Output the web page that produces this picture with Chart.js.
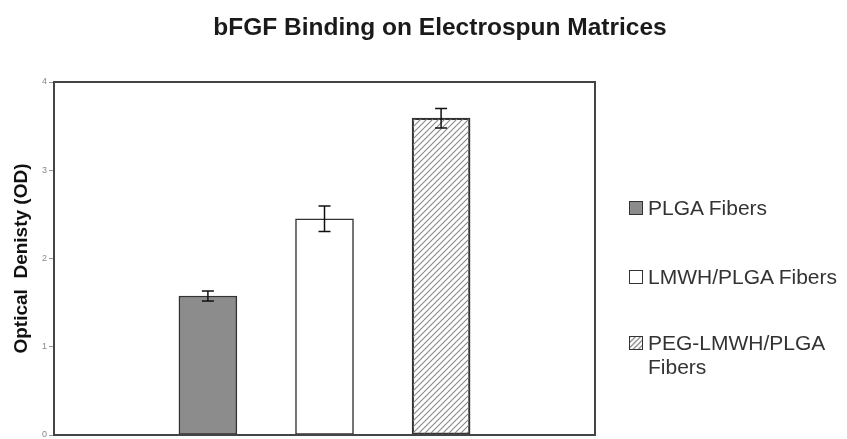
<!DOCTYPE html>
<html>
<head>
<meta charset="utf-8">
<script src="https://cdn.jsdelivr.net/npm/chart.js@4.4.1/dist/chart.umd.min.js"></script>
<style>
    html, body { margin: 0; padding: 0; background: #fff; }
    #wrap { position: relative; width: 847px; height: 439px; font-family: "Liberation Sans", Arial, sans-serif; }
    #chart { position: absolute; left: 0; top: 0; }
    #title { position: absolute; left: 140px; top: 13px; width: 600px; text-align: center; font-weight: bold; font-size: 24.5px; color: #1a1a1a; white-space: nowrap; }
    .leg { position: absolute; left: 629px; font-size: 21px; color: #333; line-height: 24px; }
    .leg .box { position: absolute; left: 0; top: 5px; width: 14px; height: 14px; border: 1.5px solid #333; box-sizing: border-box; }
    .leg .txt { margin-left: 19px; }
</style>
</head>
<body>
<div id="wrap">
    <canvas id="chart" width="847" height="439"></canvas>
    <div id="title">bFGF Binding on Electrospun Matrices</div>
    <div class="leg" style="top:196px"><span class="box" style="background:#8c8c8c"></span><div class="txt">PLGA Fibers</div></div>
    <div class="leg" style="top:265px"><span class="box" style="background:#fff"></span><div class="txt">LMWH/PLGA Fibers</div></div>
    <div class="leg" style="top:331px"><canvas class="box" id="hatchBox" width="14" height="14"></canvas><div class="txt">PEG-LMWH/PLGA<br>Fibers</div></div>
</div>
<script>
// data
const groups = ['PLGA Fibers', 'LMWH/PLGA Fibers', 'PEG-LMWH/PLGA Fibers'];
const positions = [1, 2, 3];
const means = [1.575, 2.45, 3.59];
const errors = [0.057, 0.145, 0.11];
const yTicks = [0, 1, 2, 3, 4];

function createDiagonalPattern(color) {
    const shape = document.createElement('canvas');
    shape.width = 6;
    shape.height = 6;
    const c = shape.getContext('2d');
    c.strokeStyle = color;
    c.lineWidth = 1.1;
    c.beginPath();
    c.moveTo(0, 6);
    c.lineTo(6, 0);
    c.stroke();
    c.beginPath();
    c.moveTo(-1, 1);
    c.lineTo(1, -1);
    c.stroke();
    c.beginPath();
    c.moveTo(5, 7);
    c.lineTo(7, 5);
    c.stroke();
    return c.createPattern(shape, 'repeat');
}

const ctx = document.getElementById('chart').getContext('2d');
const hatch = createDiagonalPattern('#888');

// legend swatch with the same hatch
const hb = document.getElementById('hatchBox').getContext('2d');
hb.fillStyle = createDiagonalPattern('#555');
hb.fillRect(0, 0, 14, 14);

// frame around the plot area + error bars
const framePlugin = {
    id: 'frame',
    afterDatasetsDraw(chart) {
        const { ctx, chartArea: a, scales } = chart;
        ctx.save();
        ctx.strokeStyle = '#111';
        ctx.lineWidth = 1.5;
        means.forEach((m, i) => {
            const x = scales.x.getPixelForValue(positions[i]);
            const yTop = scales.y.getPixelForValue(m + errors[i]);
            const yBot = scales.y.getPixelForValue(m - errors[i]);
            ctx.beginPath();
            ctx.moveTo(x, yTop);
            ctx.lineTo(x, yBot);
            ctx.moveTo(x - 6, yTop);
            ctx.lineTo(x + 6, yTop);
            ctx.moveTo(x - 6, yBot);
            ctx.lineTo(x + 6, yBot);
            ctx.stroke();
        });
        ctx.strokeStyle = '#444';
        ctx.lineWidth = 2;
        ctx.strokeRect(a.left, a.top, a.right - a.left, a.bottom - a.top);
        ctx.restore();
    }
};

new Chart(ctx, {
    type: 'bar',
    data: {
        datasets: [{
            data: positions.map((p, i) => ({ x: p, y: means[i] })),
            backgroundColor: ['#8c8c8c', '#ffffff', hatch],
            borderColor: '#333',
            borderWidth: 1.5,
            borderSkipped: false,
            barThickness: 58
        }]
    },
    options: {
        responsive: false,
        animation: false,
        layout: { padding: { left: 0, top: 82, right: 252, bottom: 4 } },
        plugins: {
            legend: { display: false },
            title: { display: false },
            tooltip: { enabled: false }
        },
        scales: {
            x: {
                type: 'linear',
                min: -0.32,
                max: 4.32,
                offset: false,
                afterFit: (s) => { s.height = 0; },
                ticks: { display: false },
                grid: { display: false },
                border: { display: false }
            },
            y: {
                min: 0,
                max: 4,
                afterFit: (s) => { s.width = 54; s.paddingBottom = 0; s.paddingTop = 0; },
                afterBuildTicks: (s) => { s.ticks = yTicks.map(v => ({ value: v })); },
                ticks: {
                    color: '#888',
                    font: { family: 'Liberation Sans', size: 9 },
                    padding: 2
                },
                grid: { drawOnChartArea: false, tickLength: 5, color: '#999' },
                border: { display: false },
                title: {
                    display: true,
                    text: 'Optical  Denisty (OD)',
                    color: '#111',
                    font: { family: 'Liberation Sans', size: 19, weight: 'bold' },
                    padding: { top: 10, bottom: 0 }
                }
            }
        }
    },
    plugins: [framePlugin]
});
</script>
</body>
</html>
